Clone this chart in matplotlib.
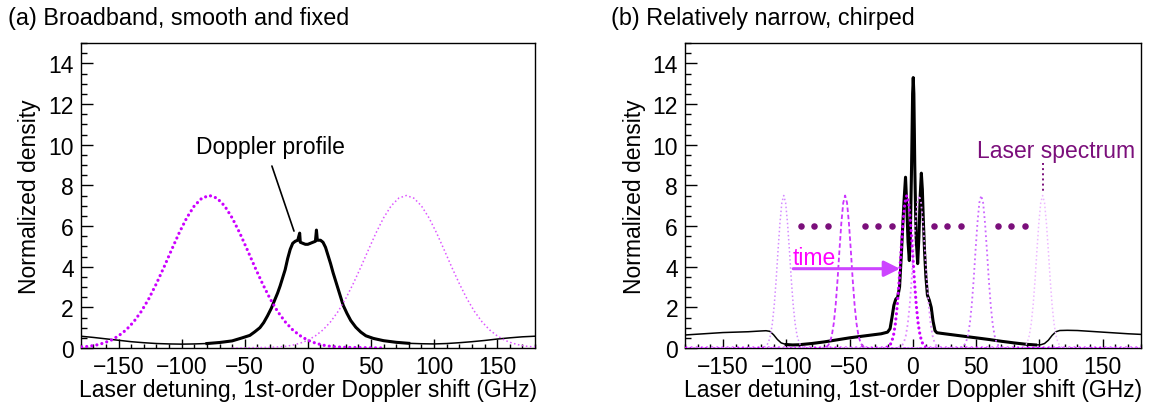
import numpy as np
import matplotlib
matplotlib.use("Agg")
import matplotlib.pyplot as plt

plt.rcParams["font.family"] = ["Liberation Sans", "DejaVu Sans"]
FS = 16.5

# ---- (a) broadband laser: Doppler profile and two fixed laser spectra ----
prof_a_x = [-180, -170, -160, -150, -140, -130, -120, -110, -100, -90, -80, -70,
            -60, -52, -46, -42, -38, -35, -32, -29, -27, -24, -22, -20, -18, -16,
            -14, -12, -10, -8, -6.5, -6, -4, -2, 0, 2, 4, 6, 6.8, 7.5, 10, 12,
            14, 16, 18, 20, 22, 24, 26, 28, 31, 34, 38, 42, 46, 52, 60, 70, 80,
            90, 100, 110, 120, 130, 140, 150, 160, 170, 180]
prof_a_y = [0.58, 0.52, 0.45, 0.38, 0.31, 0.26, 0.22, 0.20, 0.19, 0.20, 0.22, 0.27,
            0.35, 0.50, 0.62, 0.80, 1.00, 1.25, 1.58, 1.95, 2.25, 2.70, 3.05, 3.45,
            3.85, 4.40, 4.85, 5.15, 5.25, 5.30, 5.65, 5.20, 5.15, 5.10, 5.10, 5.15,
            5.20, 5.25, 5.80, 5.30, 5.30, 5.20, 4.95, 4.55, 4.15, 3.70, 3.30, 2.90,
            2.50, 2.10, 1.70, 1.35, 1.02, 0.78, 0.60, 0.47, 0.36, 0.28, 0.23, 0.21,
            0.20, 0.22, 0.26, 0.31, 0.37, 0.44, 0.50, 0.55, 0.58]

# broadband pulse shape, sampled relative to its centre (GHz)
pulse_a_dx = [-138, -108, -102, -96, -90, -84, -78, -72, -66, -60, -54, -48, -42,
              -36, -30, -24, -18, -12, -6, 0, 6, 12, 18, 24, 30, 36, 42, 48, 54,
              60, 66, 72, 78, 84, 90, 96, 102, 108, 138]
pulse_a_y = [0.0, 0.03, 0.05, 0.08, 0.14, 0.24, 0.38, 0.60, 0.89, 1.29, 1.80, 2.43,
             3.17, 3.98, 4.83, 5.66, 6.40, 6.99, 7.37, 7.50, 7.37, 6.99, 6.40, 5.66,
             4.83, 3.98, 3.17, 2.43, 1.80, 1.29, 0.89, 0.60, 0.38, 0.24, 0.14, 0.08,
             0.05, 0.03, 0.0]
centers_a = [-78, 78]

# ---- (b) narrow chirped laser ----
prof_b_x = [-180, -170, -160, -150, -140, -130, -122, -116, -113, -110, -107, -104,
            -100, -95, -90, -80, -70, -60, -50, -40, -30, -25, -20, -18, -16.5,
            -15, -13.5, -12, -10.5, -9, -8, -7, -5.8, -4.8, -3.8, -2.8, -2, -1,
            -0.2, 0.3, 0.8, 1.5, 2.5, 3.8, 4.8, 5.8, 6.7, 7.5, 8.2, 9.2, 10.3, 11.5,
            13, 14.5, 16, 17.5, 19, 25, 30, 40, 50, 60, 70, 80, 90, 97, 101, 104,
            107, 110, 113, 116, 122, 130, 140, 150, 160, 170, 180]
prof_b_y = [0.64, 0.68, 0.72, 0.76, 0.78, 0.80, 0.83, 0.85, 0.82, 0.65, 0.42, 0.25,
            0.17, 0.15, 0.16, 0.22, 0.30, 0.40, 0.50, 0.58, 0.66, 0.70, 0.78, 0.95,
            1.50, 2.10, 2.40, 2.50, 3.00, 4.70, 6.00, 7.20, 8.40, 7.00, 5.20, 4.30,
            5.50, 9.00, 12.5, 13.3, 12.5, 9.00, 5.50, 4.15, 5.50, 7.50, 8.60, 7.80,
            6.40, 4.80, 3.50, 2.60, 2.35, 2.00, 1.30, 0.85, 0.75, 0.70, 0.66, 0.58,
            0.50, 0.42, 0.33, 0.25, 0.18, 0.15, 0.16, 0.22, 0.38, 0.62, 0.80, 0.86,
            0.87, 0.86, 0.82, 0.78, 0.74, 0.70, 0.67]

pulse_b_dx = [-300, -18, -15, -13.5, -12, -10.5, -9, -7.5, -6, -4.5, -3, -1.5, 0,
              1.5, 3, 4.5, 6, 7.5, 9, 10.5, 12, 13.5, 15, 18, 300]
pulse_b_y = [0.0, 0.0, 0.05, 0.12, 0.29, 0.62, 1.20, 2.10, 3.34, 4.80, 6.14, 7.14,
             7.50, 7.14, 6.14, 4.80, 3.34, 2.10, 1.20, 0.62, 0.29, 0.12, 0.05, 0.0,
             0.0]
centers_b = [-102, -53.5, -4.8, 5.0, 54, 102.5]
colors_b = ["#d58cff", "#cc33ff", "#cc00ff", "#e08cff", "#cc66ff", "#edb8ff"]

dots_x = [-88.5, -77.7, -67, -38, -27.3, -16.5, 16.5, 27.3, 38, 67, 77.7, 88.5]
dots_y = [6.0] * len(dots_x)

PURPLE = "#7b0f7b"
DOT = (0, (0.01, 1.6))


def style_axes(ax):
    ax.set_xlim(-180, 180)
    ax.set_ylim(0, 15)
    ax.set_xticks(np.arange(-150, 151, 50))
    ax.set_xticks(np.arange(-180, 181, 10), minor=True)
    ax.set_yticks(np.arange(0, 15, 2))
    ax.set_yticks(np.arange(0, 15.01, 0.5), minor=True)
    ax.tick_params(which="both", direction="in", top=False, right=False,
                   labelsize=FS, width=1.0)
    ax.tick_params(axis="x", which="major", length=6.5, pad=5)
    ax.tick_params(axis="x", which="minor", length=3.2)
    ax.tick_params(axis="y", which="major", length=8.6, pad=5)
    ax.tick_params(axis="y", which="minor", length=4.3)
    for s in ax.spines.values():
        s.set_linewidth(1.0)
    ax.text(0.5, -0.097, "Laser detuning, 1st-order Doppler shift (GHz)",
            transform=ax.transAxes, ha="center", va="top", fontsize=FS)


def draw_profile(ax, x, y, core):
    x = np.asarray(x, float)
    y = np.asarray(y, float)
    ax.plot(x, y, color="black", lw=1.1, zorder=2)
    m = np.abs(x) <= core
    ax.plot(x[m], y[m], color="black", lw=2.2, zorder=2)


fig = plt.figure(figsize=(11.6, 4.14), dpi=100)
ax_a = fig.add_axes([0.0696, 0.157, 0.3916, 0.7367])
ax_b = fig.add_axes([0.5905, 0.157, 0.3929, 0.7367])

# (a)
style_axes(ax_a)
draw_profile(ax_a, prof_a_x, prof_a_y, 80)
dx = np.asarray(pulse_a_dx, float)
ax_a.plot(centers_a[0] + dx, pulse_a_y, color="#cc00ff", lw=2.3,
          linestyle=DOT, dash_capstyle="round", zorder=3)
ax_a.plot(centers_a[1] + dx, pulse_a_y, color="#dd55ff", lw=1.1,
          linestyle=":", zorder=3)
ax_a.text(-29.3, 9.9, "Doppler profile", ha="center", va="center", fontsize=FS)
ax_a.annotate("", xy=(-11, 5.75), xytext=(-28.5, 8.95),
              arrowprops=dict(arrowstyle="-", lw=1.2, color="black",
                              shrinkA=0, shrinkB=0))

# (b)
style_axes(ax_b)
draw_profile(ax_b, prof_b_x, prof_b_y, 100)
dxb = np.asarray(pulse_b_dx, float)
styles_b = [dict(lw=1.1, linestyle=":"),
            dict(lw=1.3, linestyle=(0, (2.5, 1.5))),
            dict(lw=2.3, linestyle=DOT, dash_capstyle="round"),
            dict(lw=1.3, linestyle=":"),
            dict(lw=1.3, linestyle=":"),
            dict(lw=1.1, linestyle=":")]
for c, col, st in zip(centers_b, colors_b, styles_b):
    ax_b.plot(c + dxb, pulse_b_y, color=col, zorder=3, **st)

ax_b.scatter(dots_x, dots_y, s=22, color=PURPLE, zorder=4, linewidths=0)
ax_b.text(50.5, 9.7, "Laser spectrum", color=PURPLE, ha="left", va="center",
          fontsize=FS)
ax_b.plot([102.5, 102.5], [9.1, 7.6], color=PURPLE, lw=1.4, linestyle=":")
ax_b.text(-94.7, 4.45, "time", color="#ff00ff", ha="left", va="center",
          fontsize=FS)
ax_b.annotate("", xy=(-10.2, 3.9), xytext=(-94.5, 3.9),
              arrowprops=dict(arrowstyle="-|>", color="#cc44ff", lw=2.2,
                              mutation_scale=24, shrinkA=0, shrinkB=0),
              zorder=5)

for ax, x0 in ((ax_a, 30), (ax_b, 635)):
    fig.text(x0 / 1160, 0.5255, "Normalized density", rotation=90,
             ha="center", va="center", fontsize=FS)

fig.text(8 / 1160, 1 - 19 / 414, "(a) Broadband, smooth and fixed",
         ha="left", va="center", fontsize=FS + 0.3)
fig.text(611 / 1160, 1 - 19 / 414, "(b) Relatively narrow, chirped",
         ha="left", va="center", fontsize=FS + 0.3)

fig.savefig("out.png", dpi=100)
